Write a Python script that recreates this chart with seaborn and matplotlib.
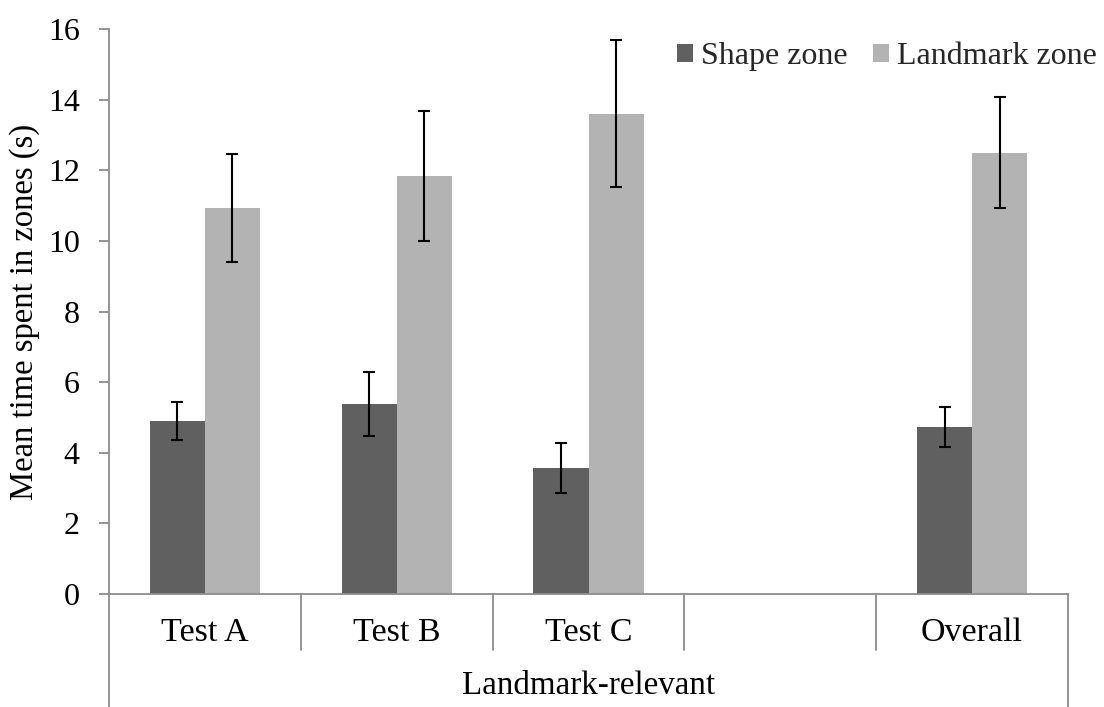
import matplotlib
matplotlib.use("Agg")
import matplotlib.pyplot as plt
from matplotlib.patches import Patch
import seaborn as sns
import pandas as pd
import numpy as np

# ---- data ----
categories = ["Test A", "Test B", "Test C", "", "Overall"]
series = ["Shape zone", "Landmark zone"]
shape_means = [4.90, 5.38, 3.57, 4.73]
shape_err = [0.55, 0.91, 0.70, 0.56]
landmark_means = [10.93, 11.84, 13.60, 12.50]
landmark_err = [1.53, 1.84, 2.08, 1.58]
data_categories = ["Test A", "Test B", "Test C", "Overall"]
group_label = "Landmark-relevant"
y_ticks = [0, 2, 4, 6, 8, 10, 12, 14, 16]
ylabel = "Mean time spent in zones (s)"

colors = {"Shape zone": "#606060", "Landmark zone": "#b3b3b3"}
axis_gray = "#8c8c8c"

rows = []
for c, m, e in zip(data_categories, shape_means, shape_err):
    rows.append({"cat": c, "series": "Shape zone", "val": m, "err": e})
for c, m, e in zip(data_categories, landmark_means, landmark_err):
    rows.append({"cat": c, "series": "Landmark zone", "val": m, "err": e})
df = pd.DataFrame(rows)

sns.set_theme(style="white")
plt.rcParams["font.family"] = ["Liberation Serif", "DejaVu Serif"]

fig = plt.figure(figsize=(11.04, 7.07), dpi=100)
ax = fig.add_axes([109 / 1104, 113 / 707, (1068 - 109) / 1104, (594 - 29) / 707])

sns.barplot(data=df, x="cat", y="val", hue="series", order=categories,
            hue_order=series, palette=colors, width=0.574, gap=0,
            errorbar=None, saturation=1, ax=ax, legend=False,
            linewidth=0)

# error bars from the library-placed bars
for cont, s in zip(ax.containers, series):
    sub = df[df["series"] == s].set_index("cat")
    for patch in cont:
        xc = patch.get_x() + patch.get_width() / 2
        idx = int(round(xc))
        cat = categories[idx]
        if cat not in sub.index:
            continue
        ax.errorbar(xc, sub.loc[cat, "val"], yerr=sub.loc[cat, "err"],
                    fmt="none", ecolor="black", elinewidth=1.5,
                    capsize=4.4, capthick=1.5, zorder=5)

ax.set_xlim(-0.5, len(categories) - 0.5)
ax.set_ylim(0, 16)
ax.set_yticks(y_ticks)
ax.set_yticklabels([str(t) for t in y_ticks], fontsize=23)
ax.tick_params(axis="y", which="major", left=True, length=7, width=1.3,
               color=axis_gray, pad=14, labelcolor="black")
ax.tick_params(axis="x", length=0, pad=17, labelsize=24.5, labelcolor="black")
ax.set_xlabel("")
ax.set_ylabel(ylabel, fontsize=23.5, labelpad=6, color="black")

for sp in ["top", "right"]:
    ax.spines[sp].set_visible(False)
for sp in ["left", "bottom"]:
    ax.spines[sp].set_color(axis_gray)
    ax.spines[sp].set_linewidth(1.3)

# multi-level category axis lines
trans = ax.get_xaxis_transform()
ax_h = 594 - 29
short = -(650 - 594) / ax_h
long_ = -(707 - 594) / ax_h
for xb in [0.5, 1.5, 2.5, 3.5]:
    ax.plot([xb, xb], [0, short], transform=trans, color=axis_gray,
            lw=1.3, clip_on=False)
for xb in [-0.5, len(categories) - 0.5]:
    ax.plot([xb, xb], [0, long_], transform=trans, color=axis_gray,
            lw=1.3, clip_on=False)
ax.text((len(categories) - 1) / 2, -(686 - 594) / ax_h, group_label,
        transform=trans, ha="center", va="center", fontsize=23.8,
        color="black")

handles = [Patch(facecolor=colors[s], edgecolor="none", label=s) for s in series]
fig.legend(handles=handles, loc="upper right",
           bbox_to_anchor=(1097 / 1104, 1 - 42 / 707),
           ncol=2, frameon=False, fontsize=23, handlelength=0.5,
           handleheight=0.5, handletextpad=0.25, columnspacing=0.8,
           borderaxespad=0.0, borderpad=0.0)

fig.savefig("out.png", dpi=100, facecolor="white")
